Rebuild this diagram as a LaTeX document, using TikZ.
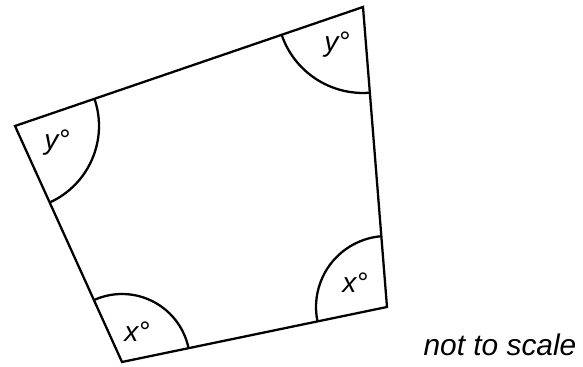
\documentclass[tikz,border=0pt]{standalone}
\usepackage{fontspec}
\setmainfont{Liberation Sans}
\usetikzlibrary{angles}

\tikzset{
  side/.style={line width=1.3pt, line join=miter},
  mark arc/.style={draw, line width=1.3pt},
  deg/.style={font=\fontsize{16}{19}\selectfont\itshape, inner sep=0pt}
}

\begin{document}
\begin{tikzpicture}[x=0.02cm,y=0.02cm]
    \useasboundingbox (0,0) rectangle (583,367);

		\coordinate (A) at (15,241);
		\coordinate (B) at (363,360);
		\coordinate (C) at (387,60);
		\coordinate (D) at (122,5);

		\draw [side] (A) -- (B) -- (C) -- (D) -- cycle;

		\pic [mark arc, angle radius=1.68cm] {angle = D--A--B}; %角
		\pic [mark arc, angle radius=1.72cm] {angle = A--B--C};
		\pic [mark arc, angle radius=1.42cm] {angle = B--C--D};
		\pic [mark arc, angle radius=1.36cm] {angle = C--D--A};

		\node [deg] (yA) at (57,224) {y°};
		\node [deg] (yB) at (337,322) {y°};
		\node [deg] (xC) at (355,84) {x°};
		\node [deg] (xD) at (137,35) {x°};

		\node [font=\fontsize{17}{20}\selectfont\itshape] (note) at (500,22) {not to scale};
\end{tikzpicture}
\end{document}
